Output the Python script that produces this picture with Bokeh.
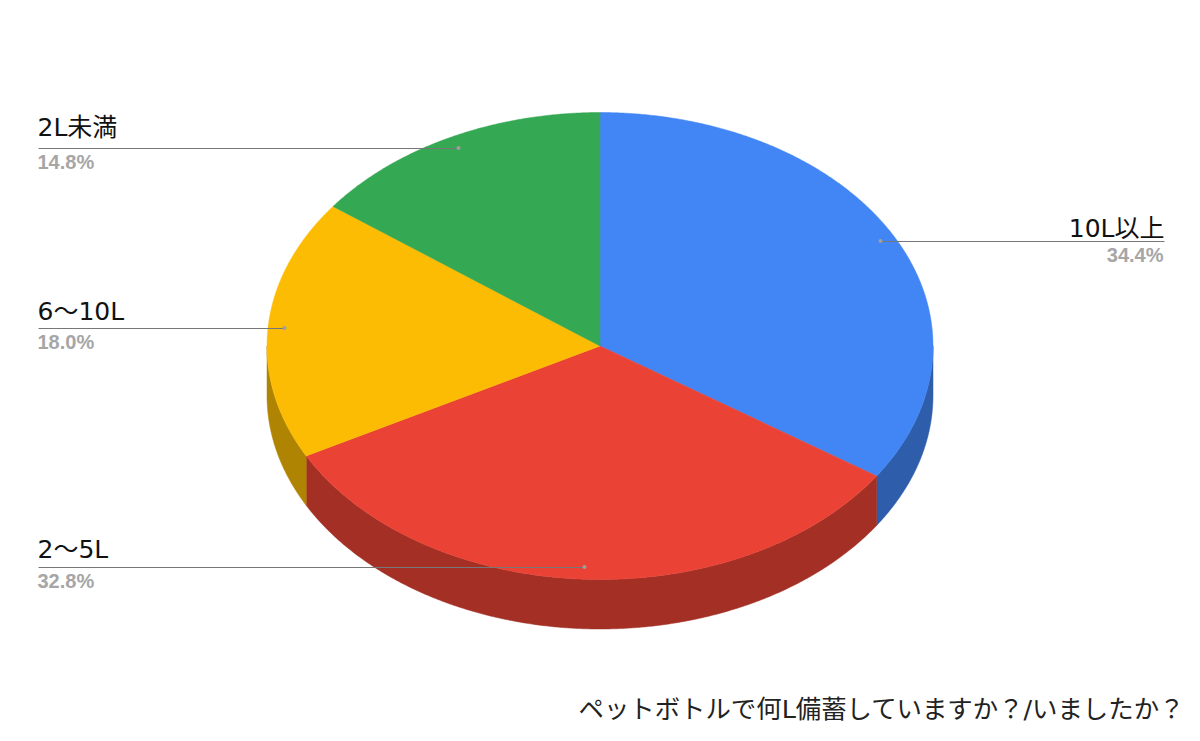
import numpy as np
from bokeh.plotting import figure
from bokeh.models import Range1d
from bokeh.core.properties import value
from bokeh.embed import file_html
from bokeh.resources import INLINE

categories = ["10L以上", "2〜5L", "6〜10L", "2L未満"]
percentages = [34.4, 32.8, 18.0, 14.8]
colors = ["#4285f4", "#ea4335", "#fdbc04", "#34a853"]
side_colors = ["#2e5dab", "#a32f25", "#b08403", "#24763a"]
title_text = "ペットボトルで何L備蓄していますか？/いましたか？"

CX, CY, RX, RY, DEPTH = 599.5, 345.5, 333.0, 233.5, 49.5

p = figure(width=1192, height=733, output_backend="svg", toolbar_location=None,
           x_range=Range1d(0, 1192), y_range=Range1d(733, 0), min_border=0,
           outline_line_color=None)
p.axis.visible = False
p.grid.visible = False

def arc(a0, a1, dy=0.0):
    t = np.radians(np.linspace(a0, a1, max(3, int(abs(a1 - a0) * 3))))
    return CX + RX * np.sin(t), CY - RY * np.cos(t) + dy

edges = np.concatenate([[0], np.cumsum(percentages)]) * 3.6

# Visible side walls (the front half of the disc, 90 to 270 degrees)
for i in range(len(percentages)):
    a0, a1 = max(edges[i], 90), min(edges[i + 1], 270)
    if a1 > a0:
        x0, y0 = arc(a0, a1)
        x1, y1 = arc(a0, a1, DEPTH)
        p.patch(np.r_[x0, x1[::-1]], np.r_[y0, y1[::-1]],
                fill_color=side_colors[i], line_color=side_colors[i], line_width=0.5)

# Top faces
for i in range(len(percentages)):
    x, y = arc(edges[i], edges[i + 1])
    p.patch(np.r_[CX, x], np.r_[CY, y], fill_color=colors[i],
            line_color=colors[i], line_width=0.5)

# Leader lines: (label index, line y, near end x at pie, outer x, label lift)
leaders = [(0, 241, 880, 1164, -1), (1, 567, 584, 38, 4), (2, 328, 284, 38, 3), (3, 148, 458, 38, 7)]
for i, ly, xa, xb, lift in leaders:
    p.line([xa, xb], [ly, ly], line_color="#777777", line_width=1)
    p.scatter([xa], [ly - 0.5], size=4, fill_color="#9e9e9e", line_color=None)
    align = "right" if xb > xa else "left"
    p.text([xb if xb > xa else xb - 1], [ly - lift], text=[categories[i]],
           text_font=value("DejaVu Sans, Noto Sans CJK JP"), text_font_size="25px",
           text_color="#111111", text_align=align, text_baseline="bottom")
    p.text([xb - 1], [ly + 2], text=[f"{percentages[i]:.1f}%"],
           text_font=value("Liberation Sans"), text_font_size="20px", text_font_style="bold",
           text_color="#a6a6a6", text_align=align, text_baseline="top")

p.text([578], [708], text=[title_text], text_font=value("DejaVu Sans, Noto Sans CJK JP"),
       text_font_size="25.4px", text_color="#222222", text_align="left", text_baseline="middle")

open("out.html", "w").write(file_html(p, INLINE))
